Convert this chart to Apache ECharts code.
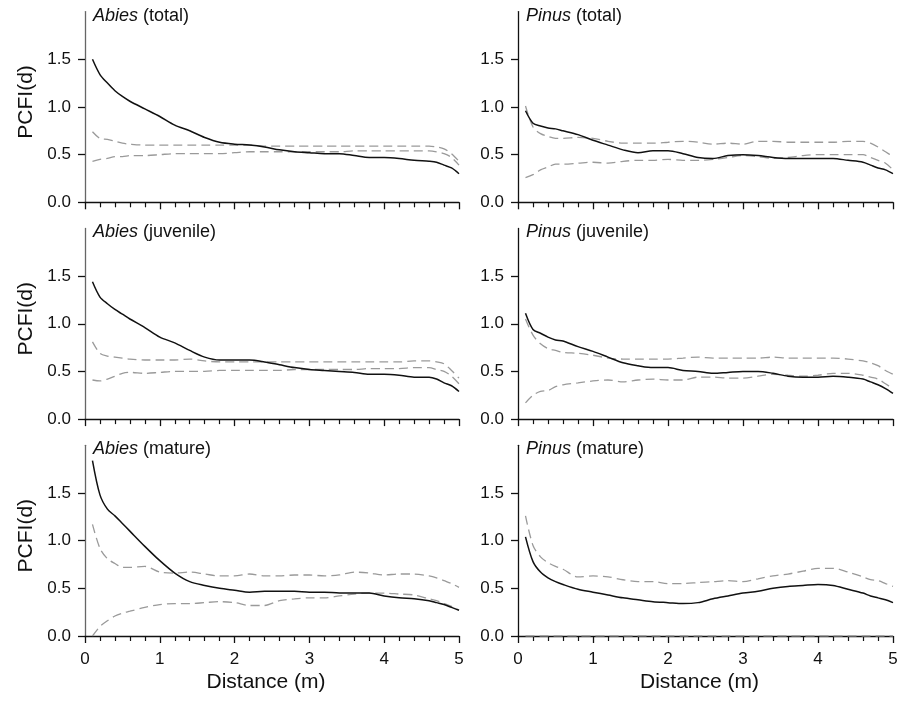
<!DOCTYPE html>
<html>
<head>
<meta charset="utf-8">
<script src="https://cdn.jsdelivr.net/npm/echarts@6/dist/echarts.min.js"></script>
<style>html,body{margin:0;padding:0;background:#fff}#c{width:906px;height:701px}</style>
</head>
<body>
<div id="c"></div>
<script>
// Distance values (m)
const distance = [0.1,0.2,0.3,0.4,0.5,0.6,0.8,1.0,1.2,1.4,1.6,1.8,2.0,2.2,2.4,2.6,2.8,3.0,3.2,3.4,3.6,3.8,4.0,4.2,4.4,4.6,4.7,4.8,4.9,5.0];

// Panel titles
const panelGenus = ["Abies","Pinus","Abies","Pinus","Abies","Pinus"];
const panelClass = ["(total)","(total)","(juvenile)","(juvenile)","(mature)","(mature)"];

// Abies (total)
const abiesTotalObs = [1.50,1.34,1.25,1.17,1.11,1.06,0.98,0.90,0.81,0.75,0.68,0.63,0.61,0.60,0.58,0.55,0.53,0.52,0.51,0.51,0.49,0.47,0.47,0.46,0.44,0.43,0.42,0.39,0.36,0.30];
const abiesTotalHi  = [0.74,0.67,0.66,0.64,0.62,0.61,0.60,0.60,0.60,0.60,0.60,0.60,0.60,0.60,0.59,0.59,0.59,0.59,0.59,0.59,0.59,0.59,0.59,0.59,0.59,0.59,0.58,0.56,0.51,0.43];
const abiesTotalLo  = [0.43,0.45,0.46,0.48,0.48,0.49,0.49,0.50,0.51,0.51,0.51,0.51,0.52,0.53,0.53,0.53,0.53,0.53,0.53,0.53,0.54,0.54,0.54,0.54,0.54,0.54,0.53,0.51,0.47,0.39];

// Pinus (total)
const pinusTotalObs = [0.96,0.83,0.80,0.78,0.77,0.75,0.71,0.65,0.60,0.55,0.52,0.54,0.54,0.51,0.47,0.46,0.49,0.50,0.49,0.47,0.46,0.46,0.46,0.46,0.44,0.42,0.39,0.36,0.34,0.30];
const pinusTotalHi  = [1.01,0.79,0.72,0.69,0.67,0.67,0.68,0.67,0.64,0.62,0.62,0.62,0.63,0.64,0.63,0.61,0.62,0.61,0.64,0.64,0.63,0.63,0.63,0.63,0.64,0.64,0.62,0.58,0.53,0.48];
const pinusTotalLo  = [0.26,0.29,0.34,0.37,0.40,0.40,0.41,0.42,0.41,0.43,0.44,0.44,0.45,0.44,0.44,0.45,0.47,0.49,0.48,0.46,0.47,0.49,0.50,0.50,0.50,0.50,0.47,0.44,0.41,0.34];

// Abies (juvenile)
const abiesJuvObs = [1.44,1.28,1.21,1.15,1.10,1.05,0.96,0.86,0.80,0.72,0.65,0.62,0.62,0.62,0.60,0.57,0.54,0.52,0.51,0.50,0.49,0.47,0.47,0.46,0.44,0.44,0.42,0.38,0.35,0.29];
const abiesJuvHi  = [0.81,0.69,0.66,0.65,0.64,0.63,0.62,0.62,0.62,0.63,0.61,0.60,0.60,0.60,0.60,0.60,0.60,0.60,0.60,0.60,0.60,0.60,0.60,0.60,0.61,0.61,0.60,0.58,0.51,0.43];
const abiesJuvLo  = [0.41,0.40,0.42,0.45,0.48,0.49,0.48,0.49,0.50,0.50,0.50,0.51,0.51,0.51,0.51,0.51,0.52,0.52,0.52,0.52,0.52,0.53,0.53,0.53,0.54,0.54,0.52,0.50,0.45,0.37];

// Pinus (juvenile)
const pinusJuvObs = [1.11,0.94,0.90,0.86,0.83,0.82,0.76,0.71,0.65,0.59,0.56,0.54,0.54,0.51,0.50,0.48,0.49,0.50,0.50,0.48,0.45,0.44,0.44,0.45,0.44,0.42,0.39,0.36,0.32,0.27];
const pinusJuvHi  = [1.05,0.88,0.79,0.74,0.72,0.70,0.69,0.67,0.64,0.63,0.63,0.63,0.63,0.64,0.65,0.64,0.64,0.64,0.64,0.65,0.64,0.64,0.64,0.64,0.63,0.61,0.59,0.56,0.51,0.47];
const pinusJuvLo  = [0.17,0.25,0.29,0.30,0.34,0.36,0.38,0.40,0.41,0.39,0.41,0.42,0.41,0.41,0.44,0.44,0.43,0.43,0.45,0.47,0.46,0.45,0.46,0.48,0.48,0.46,0.44,0.42,0.37,0.32];

// Abies (mature)
const abiesMatObs = [1.84,1.48,1.33,1.26,1.18,1.10,0.94,0.79,0.66,0.57,0.53,0.50,0.48,0.46,0.47,0.47,0.47,0.46,0.46,0.45,0.45,0.45,0.42,0.40,0.39,0.37,0.35,0.33,0.30,0.27];
const abiesMatHi  = [1.17,0.92,0.81,0.76,0.72,0.72,0.73,0.67,0.66,0.67,0.65,0.63,0.63,0.65,0.63,0.63,0.64,0.64,0.63,0.64,0.67,0.66,0.64,0.65,0.65,0.63,0.61,0.58,0.55,0.51];
const abiesMatLo  = [0.00,0.10,0.16,0.21,0.24,0.26,0.30,0.33,0.34,0.34,0.35,0.36,0.35,0.32,0.32,0.37,0.39,0.40,0.40,0.42,0.44,0.45,0.45,0.44,0.43,0.39,0.37,0.34,0.31,0.27];

// Pinus (mature)
const pinusMatObs = [1.04,0.78,0.67,0.61,0.57,0.54,0.49,0.46,0.43,0.40,0.38,0.36,0.35,0.34,0.35,0.39,0.42,0.45,0.47,0.50,0.52,0.53,0.54,0.53,0.49,0.45,0.42,0.40,0.38,0.35];
const pinusMatHi  = [1.26,0.95,0.83,0.77,0.73,0.70,0.62,0.63,0.62,0.59,0.57,0.57,0.55,0.55,0.56,0.57,0.58,0.57,0.60,0.63,0.65,0.68,0.71,0.71,0.67,0.62,0.59,0.58,0.55,0.52];
const pinusMatLo  = [0,0,0,0,0,0,0,0,0,0,0,0,0,0,0,0,0,0,0,0,0,0,0,0,0,0,0,0,0,0];

// Axis ticks
const yTickValues = [0, 0.5, 1.0, 1.5];
const xTickLabels = [0, 1, 2, 3, 4, 5];
const xAxisName = "Distance (m)";
const yAxisName = "PCFI(d)";

const panels = [
  [abiesTotalObs, abiesTotalHi, abiesTotalLo],
  [pinusTotalObs, pinusTotalHi, pinusTotalLo],
  [abiesJuvObs, abiesJuvHi, abiesJuvLo],
  [pinusJuvObs, pinusJuvHi, pinusJuvLo],
  [abiesMatObs, abiesMatHi, abiesMatLo],
  [pinusMatObs, pinusMatHi, pinusMatLo]
];

const FONT = "'Liberation Sans', Arial, Helvetica, sans-serif";
const pair = arr => distance.map((d, i) => [d, arr[i]]);

const colLeft = [85, 518];
const colWidth = [374, 375];
const rowTop = [11.6, 228.4, 445.3];
const gridH = 190.7;

const grid = [], xAxis = [], yAxis = [], series = [], title = [];
for (let p = 0; p < 6; p++) {
  const col = p % 2, row = Math.floor(p / 2);
  const bottomRow = row === 2;
  grid.push({ left: colLeft[col], top: rowTop[row], width: colWidth[col], height: gridH, containLabel: false });
  xAxis.push({
    gridIndex: p, type: 'value', min: 0, max: 5, interval: 1,
    axisLine: { show: true, lineStyle: { color: '#111', width: 1.3 } },
    axisTick: { show: true, inside: false, length: 7, lineStyle: { color: '#111', width: 1.3 } },
    minorTick: { show: true, splitNumber: 5, length: 5, lineStyle: { color: '#111', width: 1.2 } },
    splitLine: { show: false },
    axisLabel: { show: bottomRow, color: '#111', fontSize: 17, fontFamily: FONT, margin: 15,
      customValues: xTickLabels, formatter: v => String(v) },
    name: bottomRow ? xAxisName : '', nameLocation: 'middle', nameGap: 36,
    nameTextStyle: { color: '#111', fontSize: 21, fontFamily: FONT, padding: [0, 12, 0, 0] }
  });
  yAxis.push({
    gridIndex: p, type: 'value', min: 0, max: 2, interval: 0.5,
    axisLine: { show: true, lineStyle: { color: col === 0 ? '#666' : '#111', width: 1.3 } },
    axisTick: { show: true, inside: false, length: 7, customValues: yTickValues, lineStyle: { color: '#111', width: 1.3 } },
    splitLine: { show: false },
    axisLabel: { show: true, color: '#111', fontSize: 17, fontFamily: FONT, margin: 14,
      customValues: yTickValues, formatter: v => Number(v).toFixed(1) },
    name: col === 0 ? yAxisName : '', nameLocation: 'middle', nameGap: 48, nameRotate: 90,
    nameTextStyle: { color: '#111', fontSize: 21, fontFamily: FONT, padding: [0, 0, 0, 10] }
  });
  title.push({
    text: '{i|' + panelGenus[p] + '} ' + panelClass[p],
    left: colLeft[col] + 8, top: rowTop[row] - 5, padding: 0,
    textStyle: { color: '#111', fontSize: 18, fontWeight: 'normal', fontFamily: FONT,
      rich: { i: { fontStyle: 'italic', fontSize: 18, fontFamily: FONT, color: '#111' } } }
  });
  const [obs, hi, lo] = panels[p];
  const dashStyle = { color: '#9a9a9a', width: 1.3, type: [9, 5] };
  series.push({ type: 'line', xAxisIndex: p, yAxisIndex: p, data: pair(hi), showSymbol: false, smooth: 0.3, lineStyle: dashStyle, silent: true, z: 2 });
  series.push({ type: 'line', xAxisIndex: p, yAxisIndex: p, data: pair(lo), showSymbol: false, smooth: 0.3, lineStyle: dashStyle, silent: true, z: 2 });
  series.push({ type: 'line', xAxisIndex: p, yAxisIndex: p, data: pair(obs), showSymbol: false, smooth: 0.3, lineStyle: { color: '#111', width: 1.5 }, silent: true, z: 3 });
}

const chart = echarts.init(document.getElementById('c'), null, { renderer: 'canvas' });
chart.setOption({ animation: false, backgroundColor: '#fff', title, grid, xAxis, yAxis, series });
</script>
</body>
</html>
